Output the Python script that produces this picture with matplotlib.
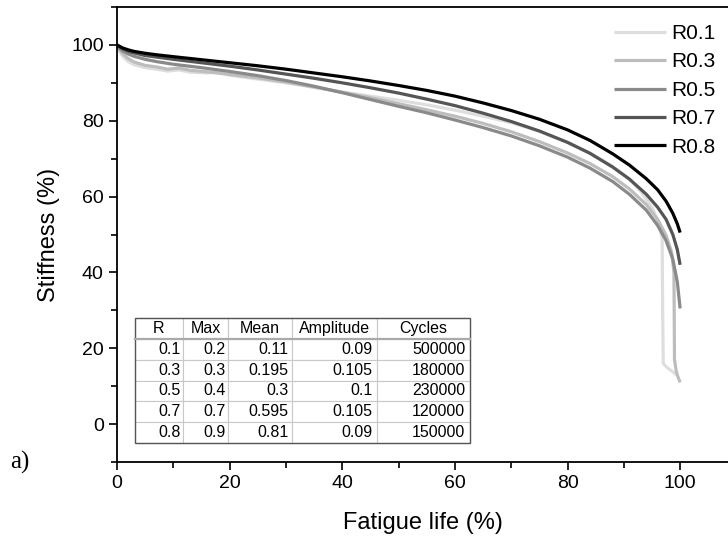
import numpy as np
import matplotlib.pyplot as plt
from matplotlib.patches import Rectangle

plt.rcParams['font.family'] = ['Liberation Sans', 'DejaVu Sans']

# stiffness curves (fatigue life %, stiffness %)
x_r01 = [0, 0.5, 1, 2, 3, 5, 7, 9, 11, 13, 16, 18, 20, 25, 30, 35, 40, 45, 50, 55, 60, 65, 70, 75, 80, 84, 88, 91, 93, 95, 96.2, 96.8, 96.9, 97.0, 97.6, 98.5, 99.3]
y_r01 = [100, 98.2, 97, 95.6, 94.8, 94, 93.6, 93.1, 93.4, 92.8, 92.6, 92.9, 92, 91, 90, 88.8, 87.6, 86.5, 85.4, 84.2, 82.8, 81.2, 79.5, 77.2, 74.3, 71.5, 68, 64.6, 61.4, 57.2, 53, 49, 30, 16, 15, 14, 13]
x_r03 = [0, 0.5, 1, 2, 3, 5, 7, 9, 11, 13, 16, 20, 25, 30, 35, 40, 45, 50, 55, 60, 65, 70, 75, 80, 84, 88, 91, 94, 96, 97.5, 98.5, 98.9, 99.0, 99.3, 99.6, 100]
y_r03 = [100, 98.6, 97.7, 96.4, 95.5, 94.6, 94.2, 93.6, 93.9, 93.3, 92.9, 92.2, 91.3, 90.2, 88.9, 87.5, 86.1, 84.5, 82.9, 81.2, 79.3, 77.1, 74.5, 71.5, 68.7, 65.3, 62, 57.9, 54, 49.8, 45.3, 40, 17, 14, 12.5, 11]
x_r05 = [0, 0.5, 1, 2, 3, 5, 7, 10, 15, 20, 25, 30, 35, 40, 45, 50, 55, 60, 65, 70, 75, 80, 84, 88, 91, 94, 96, 97.5, 98.7, 99.5, 100]
y_r05 = [100, 99, 98.4, 97.6, 97, 96.2, 95.6, 94.9, 94, 93, 91.9, 90.6, 89.1, 87.4, 85.6, 83.8, 82.1, 80.2, 78.2, 76, 73.4, 70.4, 67.5, 64, 60.6, 56.4, 52.4, 48.4, 43.5, 37.5, 30.5]
x_r07 = [0, 0.5, 1, 2, 3, 5, 7, 10, 15, 20, 25, 30, 35, 40, 45, 50, 55, 60, 65, 70, 75, 80, 84, 88, 91, 94, 96, 97.5, 98.7, 99.5, 100]
y_r07 = [100, 99.4, 99, 98.3, 97.9, 97.2, 96.8, 96.2, 95.3, 94.4, 93.4, 92.3, 91.2, 90, 88.7, 87.3, 85.7, 84, 82, 79.8, 77.3, 74.3, 71.4, 67.8, 64.6, 60.6, 57.2, 54, 50, 46, 42]
x_r08 = [0, 0.5, 1, 2, 3, 5, 7, 10, 15, 20, 25, 30, 35, 40, 45, 50, 55, 60, 65, 70, 75, 80, 84, 88, 91, 94, 96, 97.5, 98.7, 99.5, 100]
y_r08 = [100, 99.6, 99.2, 98.7, 98.3, 97.8, 97.4, 96.9, 96.1, 95.3, 94.5, 93.6, 92.6, 91.6, 90.5, 89.3, 88, 86.5, 84.7, 82.7, 80.4, 77.6, 74.8, 71.3, 68.3, 64.7, 61.8, 58.8, 55.6, 52.8, 50.5]

labels = ['R0.1', 'R0.3', 'R0.5', 'R0.7', 'R0.8']
colors = ['#dedede', '#bdbdbd', '#8a8a8a', '#555555', '#000000']

# table values
col_labels = ['R', 'Max', 'Mean', 'Amplitude', 'Cycles']
table_rows = [['0.1', '0.2', '0.11', '0.09', '500000'],
              ['0.3', '0.3', '0.195', '0.105', '180000'],
              ['0.5', '0.4', '0.3', '0.1', '230000'],
              ['0.7', '0.7', '0.595', '0.105', '120000'],
              ['0.8', '0.9', '0.81', '0.09', '150000']]
col_w = [48, 45, 64, 85, 93]

fig = plt.figure(figsize=(7.28, 5.43), dpi=100)
ax = fig.add_axes([117/728, 1 - 462/543, 1 - 117/728, 455/543])

xs = [x_r01, x_r03, x_r05, x_r07, x_r08]
ys = [y_r01, y_r03, y_r05, y_r07, y_r08]
for x, y, c, lab in zip(xs, ys, colors, labels):
    ax.plot(x, y, color=c, lw=2.3, label=lab, solid_capstyle='butt')

ax.set_xlim(0, 108.5)
ax.set_ylim(-10, 110)
ax.set_xticks([0, 20, 40, 60, 80, 100])
ax.set_xticks(np.arange(10, 110, 20), minor=True)
ax.set_yticks([0, 20, 40, 60, 80, 100])
ax.set_yticks(np.arange(-10, 111, 20), minor=True)
ax.tick_params(which='both', direction='out', labelsize=14, width=1.2)
ax.tick_params(which='major', length=6)
ax.tick_params(which='minor', length=4)
ax.spines['right'].set_visible(False)
for s in ['left', 'bottom', 'top']:
    ax.spines[s].set_linewidth(1.3)
ax.set_xlabel('Fatigue life (%)', fontsize=17, labelpad=14)
ax.set_ylabel('Stiffness (%)', fontsize=17, labelpad=8)

leg = ax.legend(loc='upper right', frameon=False, fontsize=15, handlelength=2.5,
                labelspacing=0.45, borderaxespad=0.2, handletextpad=0.25,
                bbox_to_anchor=(1.0, 0.99))

# parameter table
tw = sum(col_w)
tb = ax.table(cellText=table_rows, colLabels=col_labels,
              colWidths=[w / tw for w in col_w],
              bbox=[18/611, 19/455, 335/611, 125/455])
tb.auto_set_font_size(False)
tb.set_fontsize(11.5)
for (r, c), cell in tb.get_celld().items():
    cell.set_edgecolor('#c8c8c8')
    cell.set_linewidth(0.8)
    if r == 0:
        cell._loc = 'center'
    else:
        cell._loc = 'right'
        cell.PAD = 0.05
ax.add_patch(Rectangle((18/611, 19/455), 335/611, 125/455, transform=ax.transAxes,
                       fill=False, ec='#555555', lw=1.0, zorder=10))
ax.plot([18/611, 353/611], [19/455 + 125/455*5/6]*2, transform=ax.transAxes,
        color='#aaaaaa', lw=1.6, zorder=10)

fig.text(10/728, 1 - 462/543, 'a)', fontsize=18, family='Liberation Serif', va='center')

fig.savefig('out.png', dpi=100)
